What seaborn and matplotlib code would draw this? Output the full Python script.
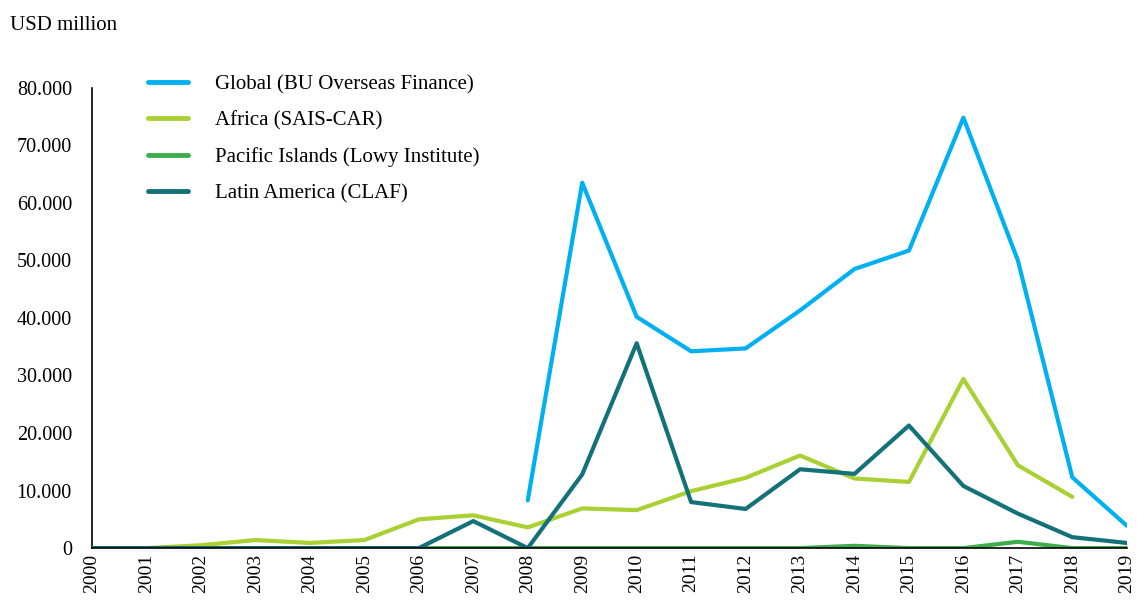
import pandas as pd
import numpy as np
import matplotlib.pyplot as plt
import matplotlib.ticker as mticker
import seaborn as sns

# DATA (USD million)

years = list(range(2000, 2020))

global_bu = [np.nan] * 8 + [8300, 63500, 40200, 34200, 34700, 41300,
                            48500, 51700, 74800, 50000, 12300, 3900]
africa = [0, 0, 500, 1400, 900, 1400, 5000, 5700, 3600, 6900, 6600,
          9900, 12200, 16100, 12100, 11500, 29400, 14400, 8900, np.nan]
pacific = [0, 0, 0, 0, 0, 0, 0, 0, 0, 0, 0,
           0, 0, 0, 400, 0, 0, 1100, 0, 0]
latam = [0, 0, 0, 0, 0, 0, 0, 4700, 0, 12800, 35600,
         8000, 6800, 13700, 12900, 21300, 10800, 6000, 1900, 900]

series_names = [
    "Global (BU Overseas Finance)",
    "Africa (SAIS-CAR)",
    "Pacific Islands (Lowy Institute)",
    "Latin America (CLAF)",
]
series_colors = ["#00B0F0", "#A9D134", "#3DAE4B", "#137179"]

# LONG FORMAT

frames = []
for name, vals in zip(series_names, [global_bu, africa, pacific, latam]):
    frames.append(pd.DataFrame({"year": years, "value": vals, "series": name}))
df = pd.concat(frames, ignore_index=True).dropna()

# PLOT

sns.set_theme(style="white")
plt.rcParams["font.family"] = ["Liberation Serif", "DejaVu Serif"]
plt.rcParams["text.color"] = "black"
plt.rcParams["xtick.color"] = "black"
plt.rcParams["ytick.color"] = "black"

fig = plt.figure(figsize=(11.37, 6.01), dpi=100)
ax = fig.add_axes([0.081, 0.088, 0.910, 0.766])

sns.lineplot(
    data=df,
    x="year",
    y="value",
    hue="series",
    hue_order=series_names,
    palette=dict(zip(series_names, series_colors)),
    linewidth=3,
    ax=ax,
)

ax.set_xlim(2000, 2019)
ax.set_ylim(0, 80000)
ax.set_xticks(years)
ax.set_xticklabels([str(y) for y in years], rotation=90, fontsize=14)
ax.yaxis.set_major_locator(mticker.MultipleLocator(10000))
ax.yaxis.set_major_formatter(
    mticker.FuncFormatter(lambda v, p: f"{v:,.0f}".replace(",", "."))
)
ax.tick_params(axis="y", labelsize=14.5, length=0, pad=14.5)
ax.tick_params(axis="x", length=0, pad=4)
ax.set_xlabel("")
ax.set_ylabel("")

for side in ["top", "right"]:
    ax.spines[side].set_visible(False)
for side in ["left", "bottom"]:
    ax.spines[side].set_color("black")
    ax.spines[side].set_linewidth(1.2)
ax.spines["left"].set_zorder(0)

leg = ax.legend(
    loc="upper left",
    bbox_to_anchor=(0.114, 0.907),
    bbox_transform=fig.transFigure,
    frameon=False,
    fontsize=15,
    handlelength=1.9,
    labelspacing=0.8,
    handletextpad=1.3,
)
for line in leg.get_lines():
    line.set_linewidth(3.5)

fig.text(0.009, 1 - 25 / 601, "USD million", fontsize=15, va="center", ha="left")

fig.savefig("out.png", dpi=100)
